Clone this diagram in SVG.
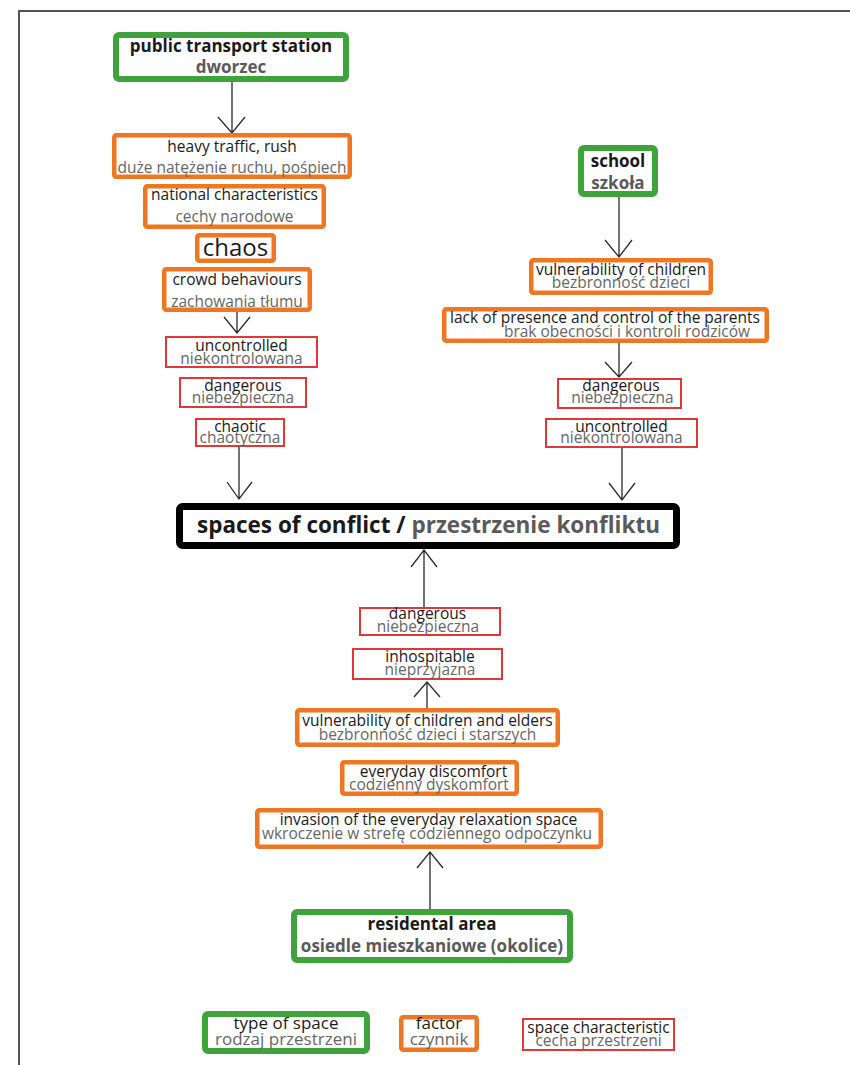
<svg xmlns="http://www.w3.org/2000/svg" width="850" height="1065" viewBox="0 0 850 1065">
<style>
text{font-family:"Open Sans","Noto Sans","Liberation Sans",sans-serif;text-anchor:middle;font-size:15.5px;fill:#1a1a1a}
.pl{fill:#666}
.b{font-weight:bold;font-size:17px}
.bpl{font-weight:bold;font-size:17px;fill:#5a5a5a}
.lg{font-size:17px}
.g{fill:#fff;stroke:#3fa33b;stroke-width:6}
.o{fill:#fff;stroke:#ef7622;stroke-width:4.5}
.r{fill:#fff;stroke:#e2363d;stroke-width:2}
.c{fill:#fff;stroke:#000;stroke-width:7}
.ln{fill:none;stroke:#2a2a2a;stroke-width:1.3}
</style>
<rect width="850" height="1065" fill="#fff"/>
<path d="M19,1065 V11 H850" fill="none" stroke="#555" stroke-width="2"/>

<g id="connectors">
<path class="ln" d="M232,82 V133 M218,117 L232,133 L245,117"/>
<path class="ln" d="M237,312 V333 M224,317 L237,333 L250,317"/>
<path class="ln" d="M239,447 V499 M227,482 L239,499 L252,482"/>
<path class="ln" d="M619,197 V257 M605,240 L619,257 L632,240"/>
<path class="ln" d="M619,343 V377 M605,362 L619,377 L632,362"/>
<path class="ln" d="M622,447 V500 M609,483 L622,500 L635,483"/>
<path class="ln" d="M424,607 V550 M411,567 L424,550 L437,567"/>
<path class="ln" d="M427,708 V682 M414,697 L427,682 L440,697"/>
<path class="ln" d="M430,909 V852 M417,868 L430,852 L443,868"/>
</g>

<g id="station">
<rect class="g" x="116" y="35" width="230" height="44" rx="3"/>
<text class="b" x="231" y="52">public transport station</text>
<text class="bpl" x="231" y="73">dworzec</text>
</g>
<g id="heavy-traffic">
<rect class="o" x="114.25" y="135.25" width="235.5" height="41.5" rx="2"/>
<text x="232" y="152">heavy traffic, rush</text>
<text class="pl" x="232" y="173">duże natężenie ruchu, pośpiech</text>
</g>
<g id="national">
<rect class="o" x="145.25" y="186.25" width="178.5" height="40.5" rx="2"/>
<text x="234.5" y="200">national characteristics</text>
<text class="pl" x="234.5" y="222">cechy narodowe</text>
</g>
<g id="chaos">
<rect class="o" x="197.25" y="235.25" width="76.5" height="25.5" rx="2"/>
<text x="235.5" y="256" style="font-size:24px">chaos</text>
</g>
<g id="crowd">
<rect class="o" x="164.25" y="269.25" width="145.5" height="40.5" rx="2"/>
<text x="237" y="285">crowd behaviours</text>
<text class="pl" x="237" y="307">zachowania tłumu</text>
</g>
<g id="uncontrolled-1">
<rect class="r" x="166" y="337" width="151" height="30"/>
<text x="241.5" y="351">uncontrolled</text>
<text class="pl" x="241.5" y="364">niekontrolowana</text>
</g>
<g id="dangerous-1">
<rect class="r" x="180" y="378" width="126" height="29"/>
<text x="243" y="391">dangerous</text>
<text class="pl" x="243" y="403">niebezpieczna</text>
</g>
<g id="chaotic">
<rect class="r" x="196" y="419" width="88" height="27"/>
<text x="240" y="432">chaotic</text>
<text class="pl" x="240" y="443">chaotyczna</text>
</g>

<g id="school">
<rect class="g" x="581" y="148" width="74" height="46" rx="3"/>
<text class="b" x="618" y="167">school</text>
<text class="bpl" x="618" y="189">szkoła</text>
</g>
<g id="vulnerability-children">
<rect class="o" x="531.25" y="260.25" width="179.5" height="32.5" rx="2"/>
<text x="621" y="275">vulnerability of children</text>
<text class="pl" x="621" y="288">bezbronność dzieci</text>
</g>
<g id="lack-of-presence">
<rect class="o" x="444.25" y="309.25" width="322.5" height="31.5" rx="2"/>
<text x="605" y="323">lack of presence and control of the parents</text>
<text class="pl" x="627" y="337">brak obecności i kontroli rodziców</text>
</g>
<g id="dangerous-2">
<rect class="r" x="558" y="379" width="123" height="29"/>
<text x="621" y="391">dangerous</text>
<text class="pl" x="622.5" y="403">niebezpieczna</text>
</g>
<g id="uncontrolled-2">
<rect class="r" x="546" y="419" width="151" height="28"/>
<text x="621.5" y="432">uncontrolled</text>
<text class="pl" x="621.5" y="443">niekontrolowana</text>
</g>

<g id="spaces-of-conflict">
<rect class="c" x="179.5" y="506.5" width="497" height="39" rx="3"/>
<text x="428.5" y="533" style="font-weight:bold;font-size:22.5px">spaces of conflict / <tspan style="fill:#5a5a5a">przestrzenie konfliktu</tspan></text>
</g>

<g id="dangerous-3">
<rect class="r" x="360" y="608" width="140" height="27"/>
<text x="427.5" y="619">dangerous</text>
<text class="pl" x="428" y="632">niebezpieczna</text>
</g>
<g id="inhospitable">
<rect class="r" x="353" y="649" width="149" height="30"/>
<text x="430" y="662">inhospitable</text>
<text class="pl" x="430" y="675">nieprzyjazna</text>
</g>
<g id="vulnerability-elders">
<rect class="o" x="297.25" y="710.25" width="260.5" height="34.5" rx="2"/>
<text x="427.5" y="726">vulnerability of children and elders</text>
<text class="pl" x="427.5" y="740">bezbronność dzieci i starszych</text>
</g>
<g id="everyday-discomfort">
<rect class="o" x="342.25" y="762.25" width="174.5" height="31.5" rx="2"/>
<text x="433.5" y="777">everyday discomfort</text>
<text class="pl" x="429" y="790">codzienny dyskomfort</text>
</g>
<g id="invasion">
<rect class="o" x="257.25" y="810.25" width="343.5" height="36.5" rx="2"/>
<text x="428.5" y="825">invasion of the everyday relaxation space</text>
<text class="pl" x="427" y="839">wkroczenie w strefę codziennego odpoczynku</text>
</g>
<g id="residential">
<rect class="g" x="294" y="912" width="276" height="48" rx="3"/>
<text class="b" x="432" y="930">residental area</text>
<text class="bpl" x="432" y="952">osiedle mieszkaniowe (okolice)</text>
</g>

<g id="legend">
<g id="legend-type">
<rect class="g" x="205" y="1014" width="162" height="37" rx="3"/>
<text class="lg" x="286" y="1029">type of space</text>
<text class="lg pl" x="286" y="1045">rodzaj przestrzeni</text>
</g>
<g id="legend-factor">
<rect class="o" x="401.25" y="1017.25" width="75.5" height="32.5" rx="2"/>
<text class="lg" x="439" y="1029">factor</text>
<text class="lg pl" x="439" y="1045">czynnik</text>
</g>
<g id="legend-characteristic">
<rect class="r" x="523" y="1019" width="151" height="31"/>
<text x="598.5" y="1033">space characteristic</text>
<text class="pl" x="598.5" y="1046">cecha przestrzeni</text>
</g>
</g>
</svg>
